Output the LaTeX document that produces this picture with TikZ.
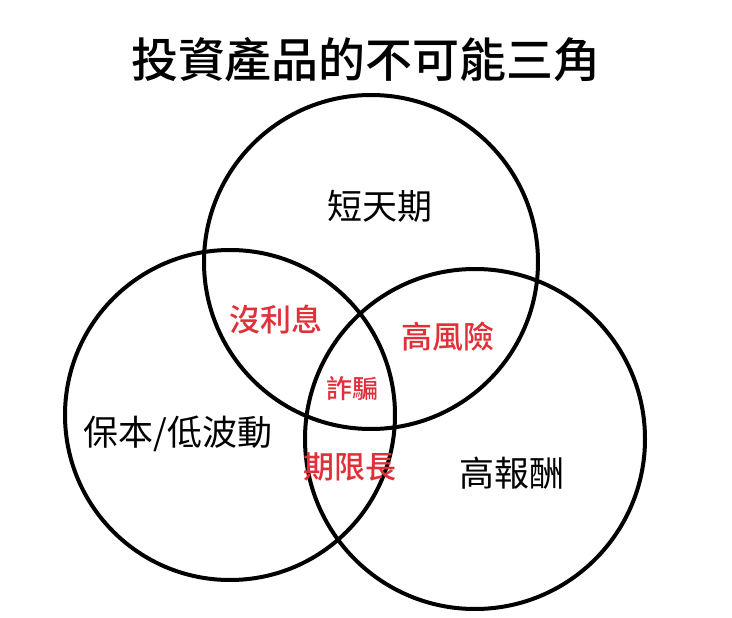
\documentclass[tikz,border=0pt]{standalone}
\usepackage{fontspec}
\setmainfont{Noto Sans CJK TC}
\newfontfamily\cjkm{Noto Sans CJK TC Medium}
\definecolor{redtxt}{HTML}{E0303A}
\begin{document}
\begin{tikzpicture}[x=1pt,y=-1pt,
  ring/.style={draw=black,line width=4pt},
  lab/.style={font=\fontsize{35}{37}\selectfont,inner sep=0},
  rlab/.style={inner sep=0,font=\cjkm\fontsize{31}{33}\selectfont,text=redtxt}]
\useasboundingbox (0,0) rectangle (732,618);
\node[inner sep=0,font=\cjkm\fontsize{47}{50}\selectfont] (title) at (366,60) {投資產品的不可能三角};
\draw[ring] (371,262) circle (167);
\draw[ring] (230,415) circle (165);
\draw[ring] (475,439) circle (170);
\node[lab] (a) at (380,206) {短天期};
\node[lab] (b) at (178,434) {保本/低波動};
\node[lab] (c) at (512,473) {高報酬};
\node[rlab] (d) at (276,320) {沒利息};
\node[rlab] (e) at (448,337) {高風險};
\node[rlab,font=\cjkm\fontsize{26}{28}\selectfont] (f) at (352,389) {詐騙};
\node[rlab] (g) at (350,467) {期限長};
\end{tikzpicture}
\end{document}
